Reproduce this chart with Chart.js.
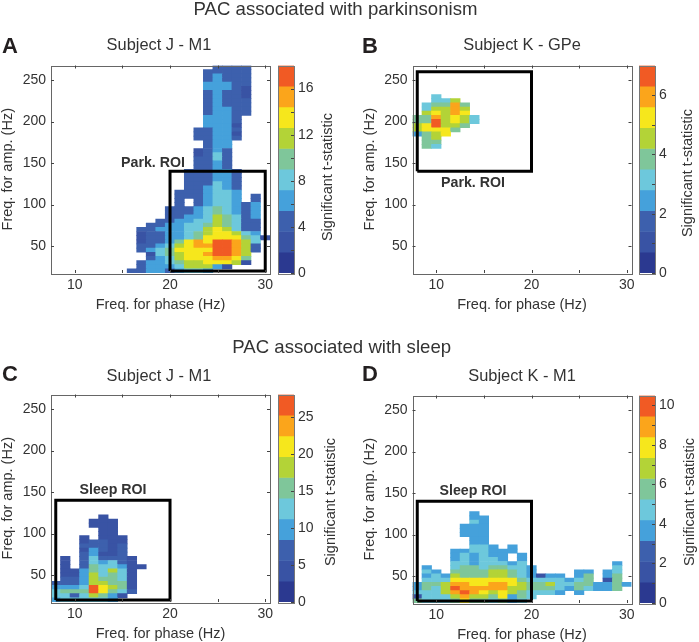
<!DOCTYPE html>
<html>
<head>
<meta charset="utf-8">
<title>PAC associated with parkinsonism and sleep</title>
<script src="https://cdn.jsdelivr.net/npm/chart.js@4"></script>
<style>
  html, body { margin: 0; background: #fff; }
  #page { position: relative; width: 699px; height: 642px; overflow: hidden; font-family: "Liberation Sans", Arial, sans-serif; color: #333; filter: blur(0.4px); }
  canvas { position: absolute; left: 0; top: 0; }
  .txt { position: absolute; white-space: nowrap; line-height: 1; transform: translate(-50%, -50%); }
  .rot { transform: translate(-50%, -50%) rotate(-90deg); }
  .sup { font-size: 18.6px; }
  .sub { font-size: 16.4px; }
  .letter { font-size: 22px; font-weight: bold; color: #231f20; }
  .roi { font-size: 14.2px; font-weight: bold; }
  .cbar { font-size: 14.5px; }
</style>
</head>
<body>
<div id="page"></div>
<script>
/* axis ticks, shared by the four maps */
const phaseTicks = [10, 15, 20, 25, 30];
const phaseLabelled = [10, 20, 30];
const ampTicks = [50, 100, 150, 200, 250];

/* colour bar levels, low to high (a digit in the maps below is an index here) */
const levelColours = ["#2b3990", "#3953a4", "#3d60ad", "#45a1db", "#6dc8dc", "#7fc69a", "#b3d337", "#f6e71c", "#fba51b", "#f15a24"];

/* A: Subject J - M1. Each row: amp. frequency, first phase frequency, levels ('.' = not significant) */
const jM1Amp = [265, 260, 255, 250, 245, 240, 235, 230, 225, 220, 215, 210, 205, 200, 195, 190, 185, 180, 175, 170, 165, 160, 155, 150, 145, 140, 135, 130, 125, 120, 115, 110, 105, 100, 95, 90, 85, 80, 75, 70, 65, 60, 55, 50, 45, 40, 35, 30, 25, 20];
const jM1Start = [25, 24, 24, 24, 24, 24, 24, 24, 24, 24, 24, 24, 24, 24, 24, 23, 23, 23, 24, 24, 23, 23, 23, 23, 23, 22, 22, 22, 22, 22, 21, 21, 21, 21, 20, 20, 20, 19, 18, 17, 17, 17, 17, 17, 17, 18, 18, 17, 17, 16];
const jM1Levels = ["2222", "22222", "23222", "23222", "33322", "33321", "23221", "23221", "23222", "23222", "23322", "23322", "3332", "3332", "3331", "22332", "22331", "22332", "233", "233", "1232", "1242", "2242", "2232", "2232", "222332", "222332", "222332", "222432", "223432", "2223443", "2223443.2", "2.23443.2", "2.2344323", "2223454323", "2223454323", "2233465423", "22334465422", "223344565422", "2233344676422", "1223345677643", "12233457777541", "1223578799864", "2234678899862", "2345777799862", "14567789986", "23467778875", "233456677761", "2333466631", "223323443"];
const jM1BarEdges = [0, 1.8, 3.6, 5.4, 7.2, 9, 10.8, 12.6, 14.4, 16.2, 18];
const jM1BarTicks = [0, 2, 4, 6, 8, 10, 12, 14, 16];
const jM1BarLabelled = [0, 4, 8, 12, 16];
const jM1RoiX = [20, 30, 30, 20, 20];
const jM1RoiY = [20, 20, 140, 140, 20];

/* B: Subject K - GPe */
const kGPeAmp = [230, 225, 220, 215, 210, 205, 200, 195, 190, 185, 180, 175, 170];
const kGPeStart = [10, 10, 9, 9, 9, 8, 8, 8, 8, 8, 9, 9, 9];
const kGPeLevels = ["4", "446", "45585", "46686", "67687", "5586764", "5596764", "679665", "67775", "3567", "56", "55", "54"];
const kGPeBarEdges = [0, 0.7, 1.4, 2.1, 2.8, 3.5, 4.2, 4.9, 5.6, 6.3, 7];
const kGPeBarTicks = [0, 1, 2, 3, 4, 5, 6];
const kGPeBarLabelled = [0, 2, 4, 6];
const kGPeRoiX = [8, 20, 20, 8, 8];
const kGPeRoiY = [140, 140, 260, 260, 140];

/* C: Subject J - M1, sleep */
const jSleepAmp = [120, 115, 110, 105, 100, 95, 90, 85, 80, 75, 70, 65, 60, 55, 50, 45, 40, 35, 30, 25, 20];
const jSleepStart = [13, 12, 12, 13, 13, 11, 11, 11, 11, 11, 9, 9, 9, 9, 9, 9, 8, 8, 8, 8, 8];
const jSleepLevels = ["1", "111", "111", "11", "11", "1.111", "12211", "22212", "13212", "23112", "1.242221", "1.243421", "1.2544311", "11354641", "11364541", "22365541", "222366551", "333497651", "455597542", "44246531", "3444443"];
const jSleepBarEdges = [0, 2.8, 5.6, 8.4, 11.2, 14, 16.8, 19.6, 22.4, 25.2, 28];
const jSleepBarTicks = [0, 5, 10, 15, 20, 25];
const jSleepBarLabelled = [0, 5, 10, 15, 20, 25];
const jSleepRoiX = [8, 20, 20, 8, 8];
const jSleepRoiY = [20, 20, 140, 140, 20];

/* D: Subject K - M1, sleep */
const kSleepAmp = [125, 120, 115, 110, 105, 100, 95, 90, 85, 80, 75, 70, 65, 60, 55, 50, 45, 40, 35, 30, 25, 20];
const kSleepStart = [14, 14, 14, 13, 13, 13, 14, 14, 14, 12, 12, 12, 12, 9, 9, 9, 9, 8, 8, 8, 8, 8];
const kSleepLevels = ["3", "33", "43", "333", "333", "333", "33", "33", "443.3", "3344333", "343433.3", "343443.3", "44344434.........3", "3..455455443........4", "43.555566543....33.34", "343655566543133.35.35", "444777777754444345.15", "35568877887655644553353", "3546988888665554354335", "4446898767654443.3", "1444686657354", "544457554534"];
const kSleepBarEdges = [0, 1.05, 2.1, 3.15, 4.2, 5.25, 6.3, 7.35, 8.4, 9.45, 10.5];
const kSleepBarTicks = [0, 1, 2, 3, 4, 5, 6, 7, 8, 9, 10];
const kSleepBarLabelled = [0, 2, 4, 6, 8, 10];
const kSleepRoiX = [8, 20, 20, 8, 8];
const kSleepRoiY = [20, 20, 140, 140, 20];

Chart.defaults.font.family = '"Liberation Sans", Arial, sans-serif';
Chart.defaults.color = "#333";
Chart.defaults.animation = false;

var PAGE_W = 699, PAGE_H = 642;
var page = document.getElementById("page");

function newCanvas() {
  var c = document.createElement("canvas");
  c.width = PAGE_W; c.height = PAGE_H;
  page.appendChild(c);
  return c.getContext("2d");
}

function addText(text, cls, x, y) {
  var d = document.createElement("div");
  d.className = "txt " + cls;
  d.style.left = x + "px";
  d.style.top = y + "px";
  d.textContent = text;
  page.appendChild(d);
}

function buildCells(amps, starts, rows) {
  var cells = [];
  rows.forEach(function (row, i) {
    for (var k = 0; k < row.length; k++) {
      if (row[k] === ".") continue;
      cells.push({ x: starts[i] + k, y: [amps[i] - 2.5, amps[i] + 2.5], level: +row[k] });
    }
  });
  return cells;
}

function zipPoints(xs, ys) {
  return xs.map(function (x, i) { return { x: x, y: ys[i] }; });
}

/* MATLAB style box with inward ticks */
function boxTicks(allSides) {
  return {
    id: "boxTicks",
    afterDraw: function (chart) {
      var a = chart.chartArea, ctx = chart.ctx, len = 3;
      ctx.save();
      ctx.strokeStyle = allSides ? "#666" : "#777";
      ctx.lineWidth = 1;
      ctx.strokeRect(Math.round(a.left) + 0.5, Math.round(a.top) + 0.5, Math.round(a.right - a.left), Math.round(a.bottom - a.top));
      ctx.strokeStyle = "#444";
      ctx.beginPath();
      chart.scales.y.ticks.forEach(function (t) {
        var py = Math.round(chart.scales.y.getPixelForValue(t.value)) + 0.5;
        if (allSides) { ctx.moveTo(a.left, py); ctx.lineTo(a.left + len, py); }
        ctx.moveTo(a.right, py); ctx.lineTo(a.right - len, py);
      });
      if (allSides) {
        chart.scales.x.ticks.forEach(function (t) {
          var px = Math.round(chart.scales.x.getPixelForValue(t.value)) + 0.5;
          ctx.moveTo(px, a.bottom); ctx.lineTo(px, a.bottom - len);
          ctx.moveTo(px, a.top); ctx.lineTo(px, a.top + len);
        });
      }
      ctx.stroke();
      ctx.restore();
    }
  };
}

function drawMap(box, amps, starts, rows, roiX, roiY) {
  var cells = buildCells(amps, starts, rows);
  new Chart(newCanvas(), {
    type: "bar",
    data: {
      datasets: [
        {
          type: "line",
          data: zipPoints(roiX, roiY),
          borderColor: "#000",
          borderWidth: 3,
          borderJoinStyle: "miter",
          pointRadius: 0,
          tension: 0,
          order: 0
        },
        {
          data: cells,
          backgroundColor: cells.map(function (c) { return levelColours[c.level]; }),
          grouped: false,
          barPercentage: 1,
          categoryPercentage: 1,
          order: 1
        }
      ]
    },
    options: {
      responsive: false,
      events: [],
      layout: { padding: { left: box.left - 50, right: PAGE_W - box.right, top: box.top, bottom: PAGE_H - box.bottom - 39 } },
      plugins: { legend: { display: false }, tooltip: { enabled: false } },
      scales: {
        x: {
          type: "linear", min: 7.5, max: 30.5, offset: false,
          grid: { display: false, drawTicks: false, offset: false },
          border: { display: false },
          title: { display: true, text: "Freq. for phase (Hz)", font: { size: 14.5, lineHeight: 1 }, padding: 0, color: "#333" },
          afterBuildTicks: function (s) { s.ticks = phaseTicks.map(function (v) { return { value: v }; }); },
          afterFit: function (s) { s.height = 39; },
          ticks: {
            autoSkip: false, maxRotation: 0, padding: 4, font: { size: 14 }, color: "#333",
            callback: function (v) { return phaseLabelled.indexOf(v) >= 0 ? v : ""; }
          }
        },
        y: {
          min: 17.5, max: 267.5,
          grid: { display: false, drawTicks: false },
          border: { display: false },
          title: { display: true, text: "Freq. for amp. (Hz)", font: { size: 14.5, lineHeight: 1 }, padding: 0, color: "#333" },
          afterBuildTicks: function (s) { s.ticks = ampTicks.map(function (v) { return { value: v }; }); },
          afterFit: function (s) { s.width = 50; },
          ticks: { autoSkip: false, padding: 5, font: { size: 14 }, color: "#333" }
        }
      }
    },
    plugins: [boxTicks(true)]
  });
}

function drawColourBar(box, edges, tickValues, labelled) {
  var segments = levelColours.map(function (col, i) {
    return { x: "t", y: [edges[i], edges[i + 1]] };
  });
  new Chart(newCanvas(), {
    type: "bar",
    data: {
      labels: ["t"],
      datasets: [{
        data: segments,
        backgroundColor: levelColours,
        grouped: false,
        barPercentage: 1,
        categoryPercentage: 1
      }]
    },
    options: {
      responsive: false,
      events: [],
      layout: { padding: { left: box.left, right: PAGE_W - box.right - 30, top: box.top, bottom: PAGE_H - box.bottom } },
      plugins: { legend: { display: false }, tooltip: { enabled: false } },
      scales: {
        x: { display: false },
        y: {
          position: "right",
          min: edges[0], max: edges[edges.length - 1],
          grid: { display: false, drawTicks: false },
          border: { display: false },
          afterBuildTicks: function (s) { s.ticks = tickValues.map(function (v) { return { value: v }; }); },
          afterFit: function (s) { s.width = 30; },
          ticks: {
            autoSkip: false, padding: 4, font: { size: 14 }, color: "#333",
            callback: function (v) { return labelled.indexOf(v) >= 0 ? v : ""; }
          }
        }
      }
    },
    plugins: [boxTicks(false)]
  });
}

/* panel A */
drawMap({ left: 51, right: 270, top: 65.5, bottom: 273 }, jM1Amp, jM1Start, jM1Levels, jM1RoiX, jM1RoiY);
drawColourBar({ left: 278, right: 294, top: 65.5, bottom: 273 }, jM1BarEdges, jM1BarTicks, jM1BarLabelled);
/* panel B */
drawMap({ left: 412.5, right: 631.5, top: 65.5, bottom: 273 }, kGPeAmp, kGPeStart, kGPeLevels, kGPeRoiX, kGPeRoiY);
drawColourBar({ left: 639, right: 655, top: 65.5, bottom: 273 }, kGPeBarEdges, kGPeBarTicks, kGPeBarLabelled);
/* panel C */
drawMap({ left: 51, right: 270, top: 394.5, bottom: 602 }, jSleepAmp, jSleepStart, jSleepLevels, jSleepRoiX, jSleepRoiY);
drawColourBar({ left: 278, right: 294, top: 394.5, bottom: 602 }, jSleepBarEdges, jSleepBarTicks, jSleepBarLabelled);
/* panel D */
drawMap({ left: 412.5, right: 631.5, top: 395.5, bottom: 603 }, kSleepAmp, kSleepStart, kSleepLevels, kSleepRoiX, kSleepRoiY);
drawColourBar({ left: 639, right: 655, top: 395.5, bottom: 603 }, kSleepBarEdges, kSleepBarTicks, kSleepBarLabelled);

/* text */
addText("PAC associated with parkinsonism", "sup", 335.5, 9);
addText("PAC associated with sleep", "sup", 341.7, 347);
addText("A", "letter", 10, 46);
addText("B", "letter", 370, 46);
addText("C", "letter", 10, 374);
addText("D", "letter", 370, 374);
addText("Subject J - M1", "sub", 159, 44);
addText("Subject K - GPe", "sub", 522, 44);
addText("Subject J - M1", "sub", 159, 375);
addText("Subject K - M1", "sub", 522, 375);
addText("Park. ROI", "roi", 153, 161.5);
addText("Park. ROI", "roi", 473, 182);
addText("Sleep ROI", "roi", 113, 489);
addText("Sleep ROI", "roi", 473, 490);
addText("Significant t-statistic", "cbar rot", 326.5, 177);
addText("Significant t-statistic", "cbar rot", 686.5, 173);
addText("Significant t-statistic", "cbar rot", 330, 502);
addText("Significant t-statistic", "cbar rot", 689, 502);
</script>
</body>
</html>
